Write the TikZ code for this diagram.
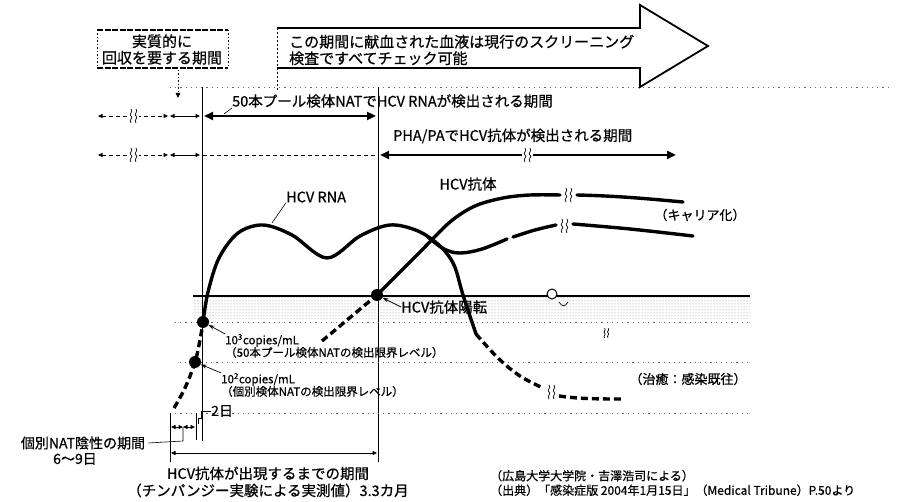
\documentclass[tikz,border=0pt]{standalone}
\usepackage{fontspec}
\setmainfont{Noto Sans CJK JP}[FakeBold=0.6]
\usetikzlibrary{arrows.meta,patterns}
\begin{document}
\begin{tikzpicture}[x=1pt,y=-1pt,
  thickcurve/.style={line width=3.4pt, line cap=round},
  dashcurve/.style={line width=3.4pt, dash pattern=on 7pt off 4pt},
  levelline/.style={black!60, line width=0.7pt, dash pattern=on 1.2pt off 4pt},
  vline/.style={line width=0.8pt},
  bigarr/.style={line width=2.8pt, {Triangle[length=9pt,width=8pt]}-{Triangle[length=9pt,width=8pt]}},
  smallarr/.style={line width=0.8pt, {Triangle[length=4.5pt,width=4pt]}-{Triangle[length=4.5pt,width=4pt]}},
  thindash/.style={line width=0.7pt, dash pattern=on 4pt off 3pt},
  lab/.style={inner sep=0pt, font=\fontsize{14.5}{17}\selectfont},
  biglab/.style={inner sep=0pt, font=\fontsize{15}{16.5}\selectfont},
  smalllab/.style={inner sep=0pt, font=\fontsize{11.5}{12.5}\selectfont, align=left},
  leader/.style={line width=0.6pt},
  leadarr/.style={line width=0.7pt, -{Stealth[length=6pt,width=4pt]}},
  dot/.style={circle, fill=black, inner sep=0pt, minimum size=12pt},
  squig/.pic={\fill[white] (-5,-8) rectangle (6,8);
    \foreach \s in {-2,3}{\draw[line width=0.7pt] (\s,-7) .. controls (\s+3,-4) and (\s-3,-2) .. (\s,0) .. controls (\s+3,2) and (\s-3,4) .. (\s,7);}},
  squigbare/.pic={\foreach \s in {-2,3}{\draw[line width=0.7pt] (\s,-7) .. controls (\s+3,-4) and (\s-3,-2) .. (\s,0) .. controls (\s+3,2) and (\s-3,4) .. (\s,7);}},
]
\useasboundingbox (0,0) rectangle (900,502);

% ---------- top boxes ----------
\node[biglab, align=center] (box1) at (162,49.5) {実質的に\\回収を要する期間};
\draw[line width=1.6pt, dash pattern=on 6pt off 1.5pt] (97,30) -- (228,30) (97,68) -- (228,68);
\draw[line width=1pt, dash pattern=on 1.5pt off 2pt] (97,30) -- (97,68) (228,30) -- (228,68);
\coordinate (b1s) at (178,70);
\coordinate (b1e) at (178,98);
\draw[line width=0.9pt, dash pattern=on 1.5pt off 2pt, -{Triangle[length=5pt,width=4.5pt]}] (b1s) -- (b1e);

\draw[line width=1.8pt, line join=miter] (277,28) -- (640,28) -- (640,5) -- (708,46) -- (640,87) -- (640,68) -- (277,68);
\draw[line width=1pt, dash pattern=on 2pt off 2pt] (277,28) -- (277,90);
\node[biglab, align=left, anchor=west] (big) at (289,50) {この期間に献血された血液は現行のスクリーニング\\検査ですべてチェック可能};

% ---------- reference lines ----------
\draw[levelline] (170,87) -- (890,87);
\coordinate (v1t) at (202,87); \coordinate (v1b) at (202,441);
\coordinate (v2t) at (378,87); \coordinate (v2b) at (378,462);
\draw[vline] (v1t) -- (v1b);
\draw[vline] (v2t) -- (v2b);

% band
\fill[pattern=dots, pattern color=black!50] (193,297) rectangle (750,319);
\draw[line width=1.3pt] (193,296) -- (750,296);
\draw[levelline] (175,322) -- (750,322);
\draw[levelline] (180,362) -- (750,362);
\draw[levelline] (170,413) -- (750,413);

% ---------- row 1 ----------
\coordinate (r1a) at (98,116); \coordinate (r1b) at (168,116);
\coordinate (r1c) at (170,116); \coordinate (r1d) at (200,116);
\coordinate (r1e) at (204,116); \coordinate (r1f) at (376,116);
\draw[smallarr, thindash] (r1a) -- (r1b);
\draw[smallarr] (r1c) -- (r1d);
\draw[bigarr] (r1e) -- (r1f);
\pic at (133,116) {squig};
\node[lab, anchor=west] (l1) at (232,101) {50本プール検体NATでHCV RNAが検出される期間};
\coordinate (l1s) at (224,114);
\draw[leader] (l1s) -- (l1.south west);

% ---------- row 2 ----------
\coordinate (r2a) at (98,155); \coordinate (r2b) at (168,155);
\coordinate (r2c) at (170,155); \coordinate (r2d) at (200,155);
\coordinate (r2e) at (203,155); \coordinate (r2f) at (378,155);
\coordinate (r2g) at (380,155); \coordinate (r2h) at (676,155);
\draw[smallarr, thindash] (r2a) -- (r2b);
\draw[smallarr] (r2c) -- (r2d);
\draw[thindash] (r2e) -- (r2f);
\draw[bigarr] (r2g) -- (r2h);
\pic at (133,155) {squig};
\pic at (527,155) {squig};
\node[lab, anchor=west] (l2) at (393,136) {PHA/PAでHCV抗体が検出される期間};

% ---------- dots ----------
\node[dot] (d3) at (203,322) {};
\node[dot] (d2) at (195,362) {};
\node[dot] (dab) at (377,295) {};
\node[circle, draw, fill=white, line width=1pt, inner sep=0pt, minimum size=10pt] (oc) at (552,294) {};
\draw[line width=0.7pt] (559,302) .. controls (562,307) and (565,307) .. (568,302);
\pic[scale=0.7] at (606,333) {squigbare};

% ---------- HCV RNA curve ----------
\draw[dashcurve] plot[smooth, tension=0.6] coordinates {(174,408) (185,388) (195,362) (200,340) (d3.center)};
\draw[thickcurve] plot[smooth, tension=0.55] coordinates {(d3.center) (208,292) (219,258) (238,233) (263,225) (292,235) (327,258) (360,236) (390,225) (418,231) (440,246) (454,265) (463,295) (476,334)};
\draw[dashcurve] plot[smooth, tension=0.6] coordinates {(476,334) (498,358) (520,376) (543,388)};
\pic at (551,392) {squigbare};
\draw[dashcurve] (559,396) .. controls (580,399) and (600,399) .. (623,399);
% carrier branch
\draw[thickcurve] plot[smooth, tension=0.6] coordinates {(428,237) (444,249) (460,253) (482,249) (507,239)};
\draw[thickcurve] plot[smooth, tension=0.6] coordinates {(513,237) (535,230) (556,225)};
\pic at (564,226) {squigbare};
\draw[thickcurve] plot[smooth, tension=0.6] coordinates {(573,224) (630,229) (693,236)};

% ---------- HCV antibody curve ----------
\coordinate (abs) at (322,341);
\draw[dashcurve] (abs) -- (dab.center);
\draw[thickcurve] plot[smooth, tension=0.55] coordinates {(dab.center) (420,252) (450,222) (475,206) (503,198) (530,195) (560,195)};
\pic at (568,195) {squigbare};
\draw[thickcurve] (577,195) .. controls (620,196) and (650,199) .. (683,202);

% ---------- labels ----------
\node[lab, anchor=west] (rna) at (286,197) {HCV RNA};
\coordinate (rnap) at (272,223);
\draw[leader] (rnap) -- (rna.south west);
\node[lab] (ab) at (468,184) {HCV抗体};
\node[inner sep=0pt, font=\fontsize{13}{15}\selectfont] (car) at (700,215) {（キャリア化）};
\node[lab, anchor=west] (conv) at (401,307) {HCV抗体陽転};
\draw[leadarr] (conv.west) -- (dab);
\node[smalllab, anchor=west] (n3) at (225,346) {10\textsuperscript{3}copies/mL\\（50本プール検体NATの検出限界レベル）};
\draw[leadarr] (n3.north west) -- (d3);
\node[smalllab, anchor=west] (n2) at (221,385) {10\textsuperscript{2}copies/mL\\（個別検体NATの検出限界レベル）};
\draw[leadarr] (n2.north west) -- (d2);
\node[inner sep=0pt, font=\fontsize{13}{15}\selectfont] (cure) at (688,379) {（治癒：感染既往）};

% ---------- bottom brackets ----------
\coordinate (t1a) at (170,413); \coordinate (t1b) at (170,462);
\coordinate (t2a) at (196,413); \coordinate (t2b) at (196,440);
\draw[vline] (t1a) -- (t1b);
\draw[vline] (t2a) -- (t2b);
\coordinate (p1) at (171,427); \coordinate (p2) at (183,427); \coordinate (p3) at (195,427);
\draw[smallarr] (p1) -- (p2);
\draw[smallarr] (p2) -- (p3);
\node[lab, anchor=west, font=\fontsize{14}{16}\selectfont] (two) at (211,411) {2日};
\draw[leader] (two.west) -- (201,411) -- (201,418) -- (198,418) -- (198,424);
\node[lab, font=\fontsize{14}{16}\selectfont] (neg) at (83,443) {個別NAT陰性の期間};
\node[lab, font=\fontsize{14}{16}\selectfont] (neg2) at (75,459) {6〜9日};
\draw[leader] (neg.east) ++(3,0) -- (183,441) -- (p2);
\coordinate (ba) at (171,453); \coordinate (bb) at (377,453);
\draw[smallarr] (ba) -- (bb);
\node[lab, align=center, font=\fontsize{14.5}{17}\selectfont] (appear) at (268,482) {HCV抗体が出現するまでの期間\\（チンパンジー実験による実測値）3.3カ月};
\node[smalllab, anchor=west, font=\fontsize{12}{14.5}\selectfont] (src) at (490,483) {（広島大学大学院・吉澤浩司による）\\（出典）「感染症版 2004年1月15日」（Medical Tribune）P.50より};
\end{tikzpicture}
\end{document}
